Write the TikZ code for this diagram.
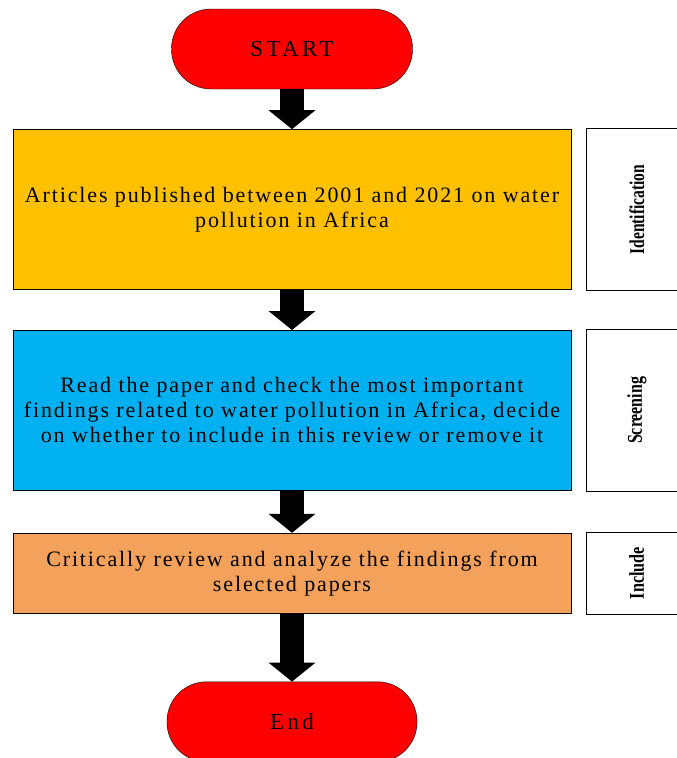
\documentclass[tikz,border=0pt]{standalone}
\usepackage{fontspec}
\setmainfont{Liberation Serif}
\newfontfamily\flowfont[LetterSpace=8.5]{Liberation Serif}
\newfontfamily\termfont[LetterSpace=15]{Liberation Serif}
\usetikzlibrary{arrows.meta,positioning}
\definecolor{startred}{HTML}{FF0000}
\definecolor{idyellow}{HTML}{FFC000}
\definecolor{screenblue}{HTML}{00B0F0}
\definecolor{inclorange}{HTML}{F4A15C}

\begin{document}
\begin{tikzpicture}[
  x=1pt,y=1pt,
  term/.style={draw,fill=startred,rounded corners=39.5pt,minimum width=241pt,minimum height=80pt,inner sep=0pt,font=\termfont\fontsize{23}{26}\selectfont},
  stage/.style={draw,line width=0.8pt,minimum width=558pt,inner sep=0pt,align=center,font=\flowfont\fontsize{22}{25}\selectfont},
  side/.style={draw,line width=0.8pt,fill=white,minimum width=100pt,inner sep=0pt},
  tag/.style={rotate=90,inner sep=0pt,font=\bfseries\fontsize{21}{21}\selectfont},
  blockarr/.style={line width=24pt,-{Triangle[width=46pt,length=19pt]}}
]
\useasboundingbox (0,0) rectangle (677,-758);
\node[term] (start) at (292,-49) {START};
\node[stage,fill=idyellow,minimum height=160pt,below=40pt of start] (ident) {Articles published between 2001 and 2021 on water\\pollution in Africa};
\node[stage,fill=screenblue,minimum height=160pt,below=40pt of ident] (screen) {Read the paper and check the most important\\findings related to water pollution in Africa, decide\\on whether to include in this review or remove it};
\node[stage,fill=inclorange,minimum height=80pt,below=42pt of screen] (incl) {Critically review and analyze the findings from\\selected papers};
\node[term,minimum width=250pt,below=68pt of incl] (end) {End};
% stage names on the right
\node[side,minimum height=162pt,right=15pt of ident] (identside) {};
\node[side,minimum height=162pt,right=15pt of screen] (screenside) {};
\node[side,minimum height=82pt,right=15pt of incl] (inclside) {};
\node[tag] (identtag) at (identside) {\scalebox{0.74}[1]{Identification}};
\node[tag] (screentag) at (screenside) {\scalebox{0.76}[1]{Screening}};
\node[tag] (incltag) at (inclside) {\scalebox{0.77}[1]{Include}};
\draw[blockarr] (start.south) -- (ident.north);
\draw[blockarr] (ident.south) -- (screen.north);
\draw[blockarr] (screen.south) -- (incl.north);
\draw[blockarr] (incl.south) -- (end.north);
\end{tikzpicture}
\end{document}
